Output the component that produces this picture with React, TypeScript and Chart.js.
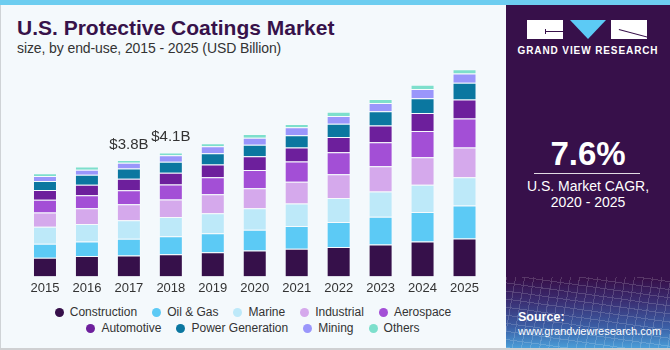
import React, { useEffect, useRef } from "react";
import { Chart, registerables } from "chart.js";

Chart.register(...registerables);

const years = ["2015", "2016", "2017", "2018", "2019", "2020", "2021", "2022", "2023", "2024", "2025"];

const construction = [0.61, 0.67, 0.69, 0.73, 0.79, 0.85, 0.91, 0.97, 1.05, 1.15, 1.25];
const oilGas = [0.46, 0.48, 0.55, 0.59, 0.63, 0.68, 0.75, 0.82, 0.91, 0.97, 1.08];
const marine = [0.56, 0.57, 0.61, 0.63, 0.66, 0.71, 0.74, 0.79, 0.83, 0.89, 0.93];
const industrial = [0.47, 0.52, 0.52, 0.58, 0.62, 0.66, 0.71, 0.78, 0.83, 0.91, 0.98];
const aerospace = [0.42, 0.43, 0.46, 0.49, 0.56, 0.6, 0.67, 0.72, 0.79, 0.86, 0.95];
const automotive = [0.32, 0.34, 0.38, 0.39, 0.42, 0.45, 0.46, 0.5, 0.55, 0.59, 0.63];
const powerGeneration = [0.3, 0.33, 0.34, 0.36, 0.37, 0.38, 0.4, 0.44, 0.47, 0.49, 0.55];
const mining = [0.16, 0.17, 0.19, 0.21, 0.23, 0.23, 0.26, 0.25, 0.27, 0.3, 0.3];
const others = [0.09, 0.1, 0.09, 0.09, 0.1, 0.12, 0.11, 0.14, 0.13, 0.14, 0.14];

const seriesNames = ["Construction", "Oil & Gas", "Marine", "Industrial", "Aerospace", "Automotive", "Power Generation", "Mining", "Others"];
const seriesValues = [construction, oilGas, marine, industrial, aerospace, automotive, powerGeneration, mining, others];
const seriesColors = ["#36104a", "#5ccaf5", "#bde9f9", "#d5a9ec", "#a34fd6", "#6d1f9c", "#0b77a0", "#9a96fb", "#7ddfcc"];

const totalLabels = ["", "", "$3.8B", "$4.1B", "", "", "", "", "", "", ""];

const titleText = "U.S. Protective Coatings Market";
const subtitleText = "size, by end-use, 2015 - 2025 (USD Billion)";
const cagrValue = "7.6%";
const cagrLine1 = "U.S. Market CAGR,";
const cagrLine2 = "2020 - 2025";

const FONT = "'Liberation Sans', Arial, sans-serif";

const totalLabelPlugin = {
  id: "totalLabels",
  afterDatasetsDraw(chart: any) {
    const ctx = chart.ctx;
    const lastMeta = chart.getDatasetMeta(chart.data.datasets.length - 1);
    ctx.save();
    ctx.font = `15px ${FONT}`;
    ctx.fillStyle = "#333333";
    ctx.textAlign = "center";
    ctx.textBaseline = "bottom";
    totalLabels.forEach((t, i) => {
      if (!t) return;
      const el = lastMeta.data[i];
      if (!el) return;
      ctx.fillText(t, el.x, el.y - 8);
    });
    ctx.restore();
  },
};

function BarChart() {
  const ref = useRef<HTMLCanvasElement | null>(null);
  useEffect(() => {
    if (!ref.current) return;
    const chart = new Chart(ref.current, {
      type: "bar",
      data: {
        labels: years,
        datasets: seriesValues.map((vals, i) => ({
          label: seriesNames[i],
          data: vals,
          backgroundColor: seriesColors[i],
          borderColor: "rgba(255,255,255,0.22)",
          borderWidth: 1,
          barPercentage: 0.572,
          categoryPercentage: 1,
        })),
      },
      options: {
        animation: false,
        responsive: false,
        maintainAspectRatio: false,
        layout: { padding: { left: 24, right: 20.5, top: 63.5, bottom: 0 } },
        plugins: { legend: { display: false }, tooltip: { enabled: false } },
        scales: {
          x: {
            stacked: true,
            grid: { display: false, drawTicks: false },
            border: { display: false },
            ticks: { color: "#333333", font: { family: FONT, size: 13 }, padding: 4 },
          },
          y: { stacked: true, display: false, min: 0, max: 7 },
        },
      },
      plugins: [totalLabelPlugin],
    } as any);
    return () => chart.destroy();
  }, []);
  return <canvas ref={ref} width={506} height={300} style={{ position: "absolute", left: 0, top: 0, width: 506, height: 300 }} />;
}

function LegendRow({ items }: { items: number[] }) {
  return (
    <div style={{ display: "flex", justifyContent: "center", alignItems: "center", height: 16 }}>
      {items.map((i, k) => (
        <div key={i} style={{ display: "flex", alignItems: "center", marginLeft: k === 0 ? 0 : 15 }}>
          <span style={{ display: "inline-block", width: 9, height: 9, borderRadius: "50%", background: seriesColors[i], marginRight: 6 }} />
          <span style={{ fontFamily: FONT, fontSize: 12, color: "#333333", whiteSpace: "nowrap" }}>{seriesNames[i]}</span>
        </div>
      ))}
    </div>
  );
}

export default function App() {
  return (
    <div style={{ position: "absolute", left: 0, top: 0, width: 670, height: 350, background: "#f4f9fc", overflow: "hidden", fontFamily: FONT }}>
      <div style={{ position: "absolute", left: 0, top: 0, width: 670, height: 5, background: "#6dcdf0" }} />
      <div style={{ position: "absolute", left: 0, top: 5, width: 1, height: 345, background: "#cfd3d6" }} />
      <div style={{ position: "absolute", left: 0, top: 348, width: 670, height: 2, background: "#cfd0d2" }} />
      <div style={{ position: "absolute", left: 17, top: 16, fontSize: 21, fontWeight: 700, color: "#37124a", whiteSpace: "nowrap", letterSpacing: 0 }}>{titleText}</div>
      <div style={{ position: "absolute", left: 17, top: 40, fontSize: 14, color: "#333333", whiteSpace: "nowrap", letterSpacing: -0.1 }}>{subtitleText}</div>
      <BarChart />
      <div style={{ position: "absolute", left: 0, top: 304, width: 506 }}>
        <LegendRow items={[0, 1, 2, 3, 4]} />
        <LegendRow items={[5, 6, 7, 8]} />
      </div>
      <div
        style={{
          position: "absolute",
          left: 506,
          top: 5,
          width: 164,
          height: 343,
          background: "linear-gradient(to bottom, #37104a 0%, #37104a 80%, #3a2c70 86%, #3b5fa6 94%, #4a9ed8 100%)",
          color: "#ffffff",
        }}
      >
        <div
          style={{
            position: "absolute",
            left: 0,
            top: 272,
            width: 164,
            height: 71,
            opacity: 0.18,
            background:
              "repeating-linear-gradient(100deg, rgba(255,255,255,0.9) 0px, rgba(255,255,255,0.9) 1px, transparent 1px, transparent 9px), repeating-linear-gradient(8deg, rgba(255,255,255,0.9) 0px, rgba(255,255,255,0.9) 1px, transparent 1px, transparent 8px)",
          }}
        />
        <div style={{ position: "absolute", left: 21, top: 15, width: 36, height: 19, background: "#ffffff" }}>
          <div style={{ position: "absolute", left: 18, top: 11, width: 18, height: 1, background: "#37104a" }} />
          <div style={{ position: "absolute", left: 18, top: 9, width: 1, height: 5, background: "#37104a" }} />
        </div>
        <div
          style={{
            position: "absolute",
            left: 64,
            top: 15,
            width: 0,
            height: 0,
            borderLeft: "18px solid transparent",
            borderRight: "18px solid transparent",
            borderTop: "19px solid #5ccaf5",
          }}
        />
        <div style={{ position: "absolute", left: 105, top: 15, width: 36, height: 19, background: "#ffffff", overflow: "hidden" }}>
          <div style={{ position: "absolute", left: 8, top: 9, width: 30, height: 1, background: "#37104a", transform: "rotate(15deg)", transformOrigin: "0 0" }} />
        </div>
        <div style={{ position: "absolute", left: 0, top: 40, width: 164, textAlign: "center", fontSize: 10, fontWeight: 700, letterSpacing: 0.9, whiteSpace: "nowrap" }}>
          GRAND VIEW RESEARCH
        </div>
        <div style={{ position: "absolute", left: 0, top: 130, width: 164, textAlign: "center", fontSize: 33, fontWeight: 700 }}>{cagrValue}</div>
        <div style={{ position: "absolute", left: 28, top: 168, width: 106, height: 1, background: "rgba(255,255,255,0.85)" }} />
        <div style={{ position: "absolute", left: 0, top: 173, width: 164, textAlign: "center", fontSize: 14, lineHeight: "16px" }}>
          {cagrLine1}
          <br />
          {cagrLine2}
        </div>
        <div style={{ position: "absolute", left: 12, top: 305, fontSize: 12.5, fontWeight: 700, lineHeight: "14px" }}>Source:</div>
        <div style={{ position: "absolute", left: 12, top: 319, fontSize: 11, lineHeight: "14px", whiteSpace: "nowrap" }}>www.grandviewresearch.com</div>
      </div>
    </div>
  );
}
